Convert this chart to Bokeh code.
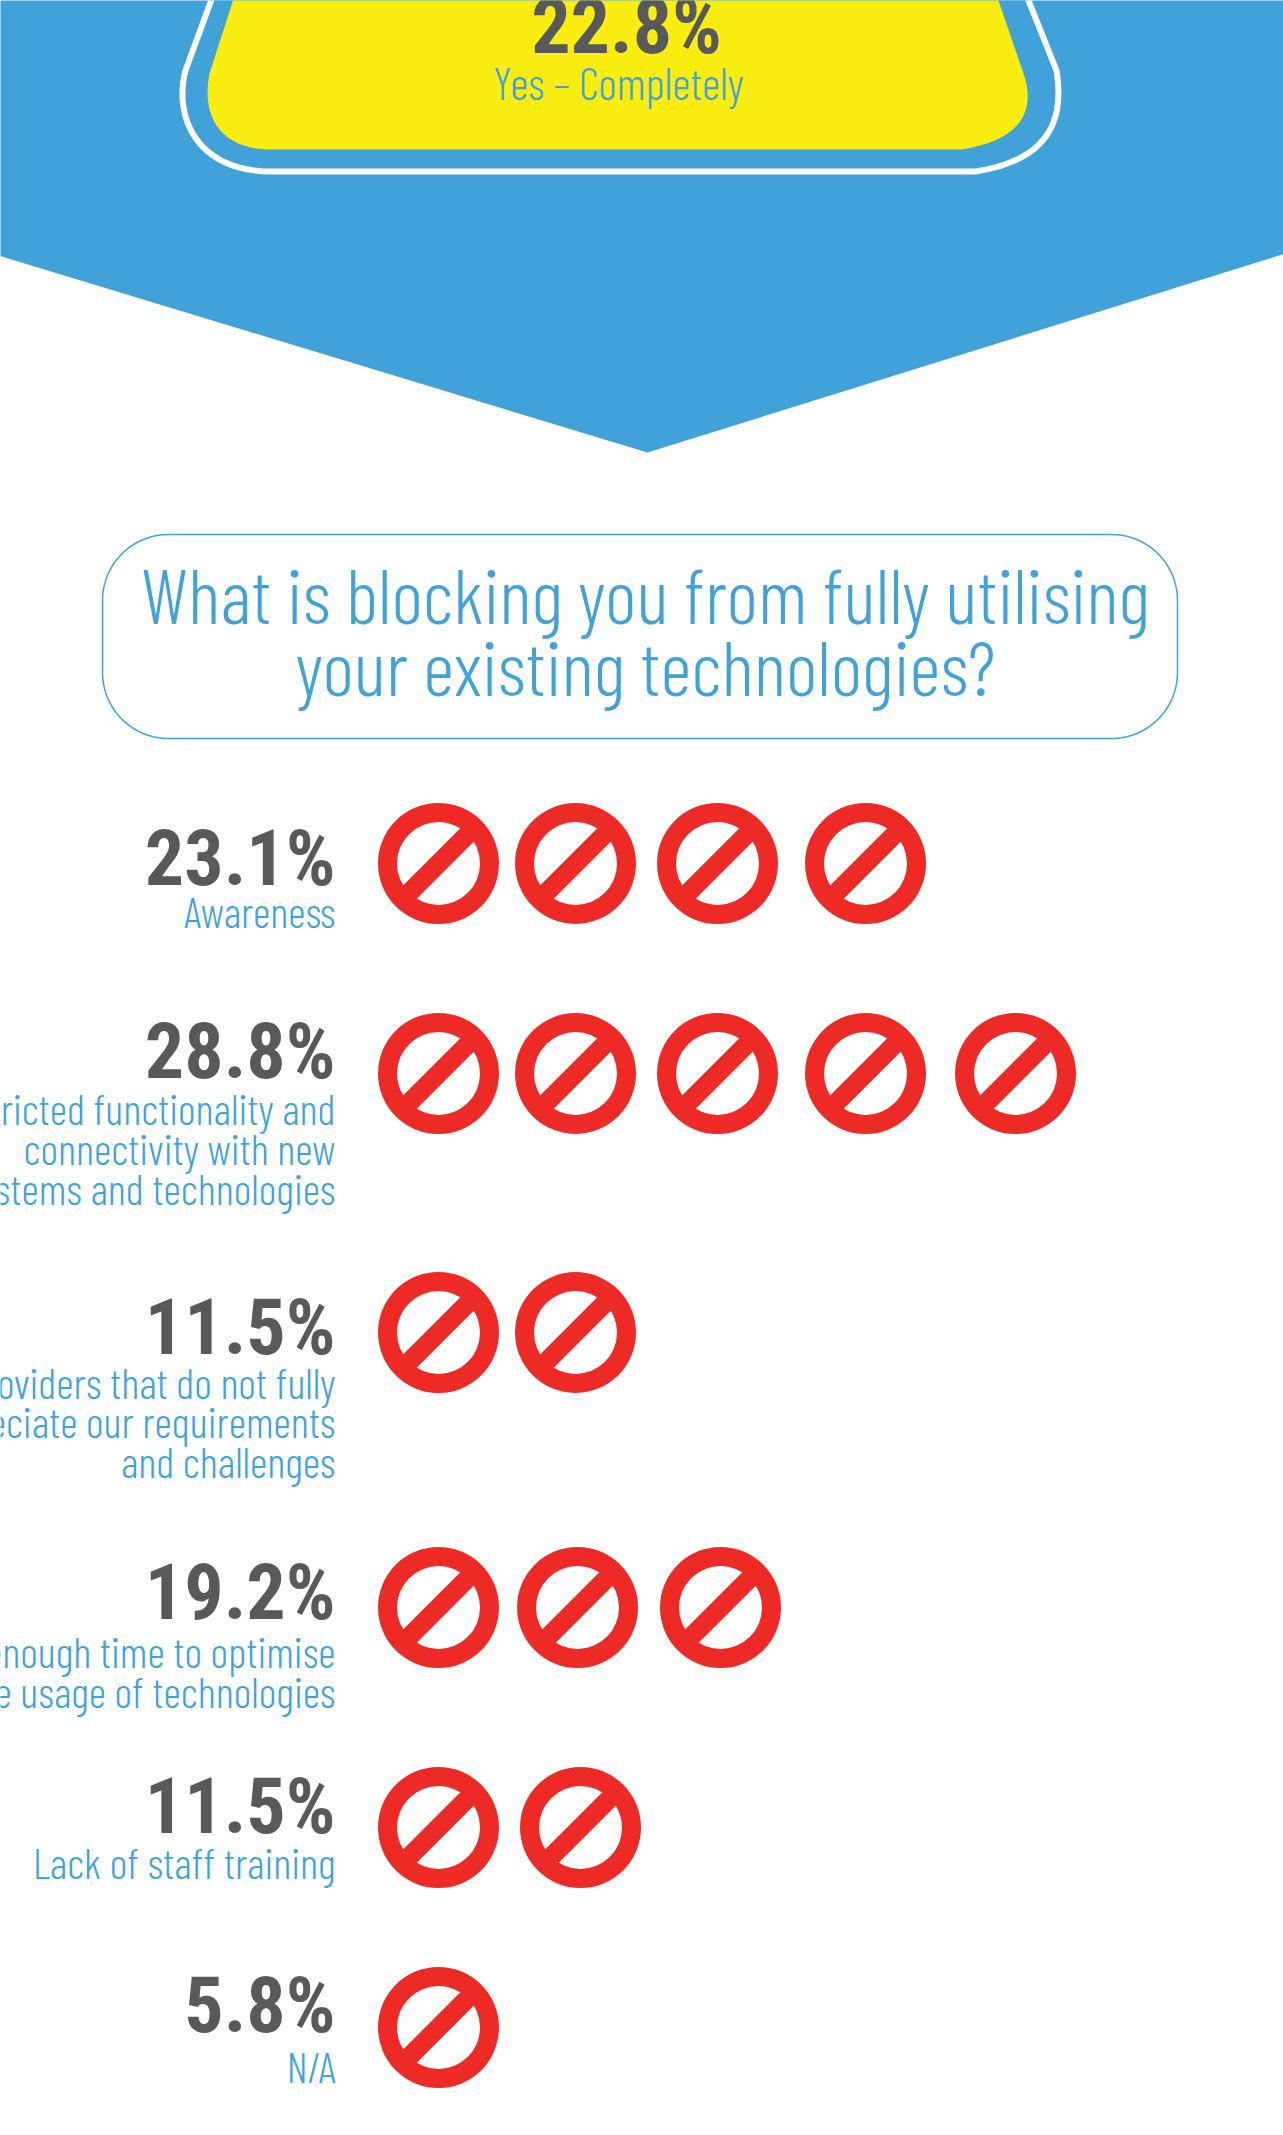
from bokeh.plotting import figure
from bokeh.embed import file_html
from bokeh.resources import INLINE
from bokeh.models import Range1d
from bokeh.core.properties import value
import math

# ---- data ----
values = [23.1, 28.8, 11.5, 19.2, 11.5, 5.8]
icon_counts = [4, 5, 2, 3, 2, 1]
categories = [
    ["Awareness"],
    ["Restricted functionality and", "connectivity with new", "systems and technologies"],
    ["Providers that do not fully", "appreciate our requirements", "and challenges"],
    ["Not enough time to optimise", "the usage of technologies"],
    ["Lack of staff training"],
    ["N/A"],
]
title_lines = ["What is blocking you from fully utilising", "your existing technologies?"]
top_value = 22.8
top_label = "Yes \u2013 Completely"

# ---- layout (pixels of the 1283x2135 page) ----
W, H = 1283, 2135
BLUE, RED, YELLOW, GREY = "#41a2da", "#ee2a27", "#faed10", "#58595b"
LIGHT = value("'Barlow Condensed Light', 'Pathway Gothic One', 'Roboto Condensed', 'Liberation Sans', sans-serif")
BOLD = value("'Roboto Condensed', 'Liberation Sans', sans-serif")
row_cy = [863, 1073, 1332, 1607, 1827, 2027]
row_icon_x = [
    [438, 575, 717, 865],
    [438, 575, 717, 865, 1015],
    [438, 575],
    [438, 577, 720],
    [438, 580],
    [438],
]
# baseline correction: the text baseline lands below the asked y by this many px
NUM_OFF, LABEL_OFF, TITLE_OFF = 29, 17, 31
num_base = [887, 1080, 1356, 1621, 1835, 2034]
label_base = [[927], [1124, 1164, 1204], [1398, 1437, 1477], [1667, 1707], [1878], [2082]]
TEXT_RIGHT = 335
NUM_SIZE, LABEL_SIZE, TITLE_SIZE = "78px", "43px", "77px"


def bez(p0, p1, p2, p3, n=24):
    out = []
    for i in range(n + 1):
        t = i / n
        a, b, c, d = (1 - t) ** 3, 3 * t * (1 - t) ** 2, 3 * t * t * (1 - t), t ** 3
        out.append((a * p0[0] + b * p1[0] + c * p2[0] + d * p3[0],
                    a * p0[1] + b * p1[1] + c * p2[1] + d * p3[1]))
    return out


def flask(top_l, sh_l, bot_y, bl_x, br_x, sh_r, top_r, ext_l, ext_r):
    pts = [(top_l, -20), sh_l]
    pts += bez(sh_l, (ext_l, sh_l[1] + 45), (ext_l + 22, bot_y), (bl_x, bot_y))
    pts += bez((br_x, bot_y), (br_x + 62, bot_y - 10), (ext_r + 6, bot_y - 40), sh_r)
    pts += [(top_r, -20)]
    return [q[0] for q in pts], [q[1] for q in pts]


def rounded(l, r, t, b, rad):
    pts = []
    for cx, cy, a0 in [(l + rad, t + rad, 180), (r - rad, t + rad, 270), (r - rad, b - rad, 0), (l + rad, b - rad, 90)]:
        for k in range(21):
            a = math.radians(a0 + 90 * k / 20)
            pts.append((cx + rad * math.cos(a), cy + rad * math.sin(a)))
    pts.append(pts[0])
    return [q[0] for q in pts], [q[1] for q in pts]


p = figure(width=W, height=H, output_backend="svg", toolbar_location=None,
           x_range=Range1d(0, W), y_range=Range1d(H, 0), min_border=0, margin=(0, 0, 0, 0))
p.axis.visible = False
p.grid.visible = False
p.outline_line_color = None
p.background_fill_color = "white"
p.border_fill_color = "white"

# banner
p.patch([-2, W + 2, W + 2, 647, -2], [-2, -2, 253, 452, 255], fill_color=BLUE, line_color=BLUE, line_width=0)

# flask outline and fill
xs, ys = flask(218, (185, 70), 171, 271, 975, (1056, 70), 1020, 173, 1060)
p.patch(xs, ys, fill_color=BLUE, line_color="white", line_width=6)
xs, ys = flask(239, (209, 73), 149, 270, 961, (1023, 73), 991, 200, 1029)
p.patch(xs, ys, fill_color=YELLOW, line_color=None)

p.text([626], [55 - NUM_OFF], text=[f"{top_value}%"], text_font=BOLD, text_font_style="bold",
       text_font_size=NUM_SIZE, text_color=GREY, text_align="center", text_baseline="alphabetic")
p.text([618], [98 - LABEL_OFF], text=[top_label], text_font=LIGHT, text_font_size="45px",
       text_color=BLUE, text_align="center", text_baseline="alphabetic")

# question box
xs, ys = rounded(102, 1177, 534, 738, 66)
p.patch(xs, ys, fill_color="white", line_color=BLUE, line_width=1.5)
p.text([645, 645], [623 - TITLE_OFF, 695 - TITLE_OFF], text=title_lines, text_font=LIGHT,
       text_font_size=TITLE_SIZE, text_color=BLUE, text_align="center", text_baseline="alphabetic")

# rows
ix, iy, seg = [], [], ([], [], [], [])
D = 36
for n, xrow, cy in zip(icon_counts, row_icon_x, row_cy):
    for cx in xrow[:n]:
        ix.append(cx)
        iy.append(cy)
        seg[0].append(cx - D); seg[1].append(cy + D)
        seg[2].append(cx + D); seg[3].append(cy - D)

p.annulus(ix, iy, inner_radius=41.5, outer_radius=60.5, fill_color=RED, line_color=None)
p.segment(seg[0], seg[1], seg[2], seg[3], line_color=RED, line_width=19, line_cap="butt")

p.text([TEXT_RIGHT] * len(values), [b - NUM_OFF for b in num_base], text=[f"{v}%" for v in values],
       text_font=BOLD, text_font_style="bold", text_font_size=NUM_SIZE, text_color=GREY,
       text_align="right", text_baseline="alphabetic")

lx, ly, lt = [], [], []
for lines, bases in zip(categories, label_base):
    for t, b in zip(lines, bases):
        lx.append(TEXT_RIGHT); ly.append(b - LABEL_OFF); lt.append(t)
p.text(lx, ly, text=lt, text_font=LIGHT, text_font_size=LABEL_SIZE, text_color=BLUE,
       text_align="right", text_baseline="alphabetic")

open("out.html", "w").write(file_html(p, INLINE))
